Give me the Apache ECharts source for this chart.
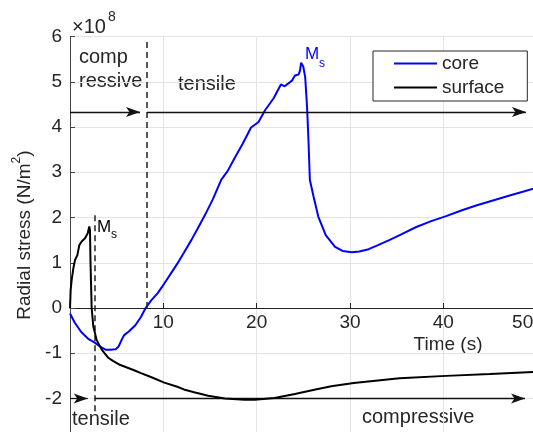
<!DOCTYPE html>
<html>
<head>
<meta charset="utf-8">
<script src="https://cdn.jsdelivr.net/npm/echarts@6/dist/echarts.min.js"></script>
<style>
html,body{margin:0;padding:0;background:#fff;}
#chart{width:533px;height:432px;}
</style>
</head>
<body>
<div id="chart"></div>
<script>
// ---- data (stress in units of 1e8 N/m^2, time in s) ----
const coreX = [0, 0.5, 1.2, 2.0, 2.7, 3.2, 3.8, 4.3, 4.9, 5.2, 5.5, 5.8, 6.3, 7.0, 7.6, 8.1, 8.7, 9.4, 10.1, 10.8, 11.5, 12.2, 13.0, 13.8, 14.5, 15.3, 16.2, 16.9, 17.6, 18.5, 19.4, 20.2, 20.9, 21.8, 22.6, 23.0, 23.5, 23.8, 24.1, 24.5, 24.65, 24.76, 25.0, 25.2, 25.4, 25.55, 25.7, 26.1, 26.6, 27.4, 28.4, 29.2, 30.2, 31.0, 32.0, 33.0, 34.2, 35.6, 37.1, 38.7, 40.3, 42.0, 43.6, 45.4, 47.2, 48.7, 50, 51];
const coreY = [-0.12, -0.32, -0.53, -0.69, -0.77, -0.85, -0.92, -0.92, -0.91, -0.85, -0.72, -0.6, -0.52, -0.38, -0.2, 0.0, 0.17, 0.33, 0.54, 0.76, 0.98, 1.22, 1.5, 1.8, 2.07, 2.4, 2.83, 3.03, 3.3, 3.63, 3.99, 4.11, 4.37, 4.63, 4.94, 4.9, 4.98, 5.03, 5.14, 5.16, 5.25, 5.42, 5.33, 5.1, 4.44, 3.71, 2.83, 2.46, 2.02, 1.61, 1.35, 1.26, 1.23, 1.25, 1.3, 1.39, 1.5, 1.64, 1.79, 1.92, 2.03, 2.16, 2.27, 2.38, 2.49, 2.58, 2.66, 2.71];

const surfX = [0, 0.07, 0.18, 0.36, 0.54, 0.79, 1.0, 1.25, 1.61, 1.9, 2.07, 2.14, 2.2, 2.32, 2.5, 2.86, 3.4, 4.1, 4.6, 5.4, 6.8, 7.6, 8.6, 10.1, 11.5, 12.2, 13.3, 14.8, 16.6, 18.7, 19.8, 21.9, 24.1, 26.3, 28.0, 30.4, 35.3, 40.3, 45.0, 50, 51];
const surfY = [0, 0.4, 0.62, 0.88, 1.06, 1.17, 1.39, 1.47, 1.54, 1.65, 1.8, 1.72, 0.99, 0.0, -0.41, -0.71, -0.92, -1.1, -1.17, -1.26, -1.37, -1.44, -1.52, -1.65, -1.74, -1.8, -1.86, -1.94, -2.0, -2.03, -2.03, -1.99, -1.9, -1.8, -1.73, -1.66, -1.55, -1.5, -1.46, -1.41, -1.40];

const xTickLabels = [10, 20, 30, 40, 50];
const yTickLabels = [-2, -1, 0, 1, 2, 3, 4, 5, 6];

// annotation geometry (data coordinates)
const dashedLines = [ [8.25, 5.88, 0], [2.65, 2.05, -2.3] ];          // [x, yTop, yBottom]
const arrowLines = [ [0, 7.5, 4.33], [8.25, 48.85, 4.33], [0, 1.9, -2.0], [2.65, 48.75, -2.0] ]; // [xStart, xEnd, y]

// ---- chart ----
const FONT = 'Liberation Sans, Arial, Helvetica, sans-serif';
const TXT = '#262626';
const Y_MIN = -3, Y_MAX = 6;
const GRID_TOP = 36.5, GRID_H = 407.25;
const chart = echarts.init(document.getElementById('chart'), null, {renderer: 'canvas'});

const pairs = (xs, ys) => xs.map((x, i) => [x, ys[i]]);
// distance (px) from grid bottom up to y = 0, used to place the x axis at the origin
const zeroOffset = GRID_H * (0 - Y_MIN) / (Y_MAX - Y_MIN);

const option = {
  animation: false,
  backgroundColor: '#fff',
  textStyle: {fontFamily: FONT},
  grid: {left: 70, top: GRID_TOP, width: 476, height: GRID_H, containLabel: false, outerBoundsMode: 'none'},
  xAxis: {
    type: 'value', min: 0, max: 51, interval: 10, position: 'bottom', offset: -zeroOffset,
    axisLine: {onZero: false, lineStyle: {color: '#222', width: 1}},
    axisTick: {inside: true, length: 5, lineStyle: {color: '#222'}},
    axisLabel: {
      fontSize: 19, color: TXT, margin: 5, fontFamily: FONT,
      formatter: function (v) {
        if (xTickLabels.indexOf(v) < 0) return '';
        if (v === xTickLabels[xTickLabels.length - 1]) return '{e|' + v + '}';
        return String(v);
      },
      rich: {e: {fontSize: 19, color: TXT, fontFamily: FONT, padding: [0, 28, 0, 0]}}
    },
    splitLine: {show: true, lineStyle: {color: '#e4e4e4', width: 1}}
  },
  yAxis: {
    type: 'value', min: Y_MIN, max: Y_MAX, interval: 1,
    axisLine: {show: true, onZero: false, lineStyle: {color: '#444', width: 1}},
    axisTick: {show: true, inside: true, length: 5, lineStyle: {color: '#444'}},
    axisLabel: {
      fontSize: 19, color: TXT, margin: 8, fontFamily: FONT,
      formatter: function (v) { return yTickLabels.indexOf(v) >= 0 ? String(v) : ''; }
    },
    splitLine: {show: true, lineStyle: {color: '#e4e4e4', width: 1}},
    name: '{a|Radial stress (N/m}{b|2}{a|)}',
    nameLocation: 'middle', nameGap: 31, nameRotate: 90,
    nameTextStyle: {
      padding: [0, 0, 0, 10],
      rich: {
        a: {fontSize: 19, color: TXT, fontFamily: FONT, verticalAlign: 'bottom', padding: [5, 0, 0, 0]},
        b: {fontSize: 12, color: TXT, fontFamily: FONT, verticalAlign: 'top'}
      }
    }
  },
  legend: {
    data: ['core', 'surface'], orient: 'vertical', left: 373, top: 51,
    icon: 'rect', itemWidth: 43, itemHeight: 2, itemGap: 5,
    padding: [3, 23, 4, 21],
    borderColor: '#262626', borderWidth: 1, backgroundColor: '#fff',
    textStyle: {fontSize: 19, lineHeight: 19, color: TXT, fontFamily: FONT}
  },
  series: [
    {
      name: 'core', type: 'line', data: pairs(coreX, coreY), symbol: 'none', showSymbol: false,
      lineStyle: {color: '#0000ff', width: 2}, itemStyle: {color: '#0000ff'}, z: 4, clip: true
    },
    {
      name: 'surface', type: 'line', data: pairs(surfX, surfY), symbol: 'none', showSymbol: false,
      lineStyle: {color: '#000', width: 2}, itemStyle: {color: '#000'}, z: 5, clip: true
    },
    {
      name: 'dashes', type: 'line', data: [], silent: true, z: 3,
      markLine: {
        silent: true, animation: false, symbol: ['none', 'none'], label: {show: false},
        emphasis: {disabled: true},
        lineStyle: {color: '#222', width: 1.5, type: [6, 4]},
        data: dashedLines.map(d => [{coord: [d[0], d[1]]}, {coord: [d[0], d[2]]}])
      }
    },
    {
      name: 'arrows', type: 'line', data: [], silent: true, z: 3,
      markLine: {
        silent: true, animation: false, symbol: ['none', 'arrow'], symbolSize: [7.5, 14], label: {show: false},
        emphasis: {disabled: true},
        lineStyle: {color: '#111', width: 1.3, type: 'solid'},
        data: arrowLines.map(a => [{coord: [a[0], a[2]]}, {coord: [a[1], a[2]]}])
      }
    }
  ],
  graphic: [
    {type: 'text', x: 72, y: 27, style: {text: '×10', font: '20px ' + FONT, fill: TXT, verticalAlign: 'middle'}},
    {type: 'text', x: 108, y: 17, style: {text: '8', font: '14px ' + FONT, fill: TXT, verticalAlign: 'middle'}},
    {type: 'text', x: 79, y: 57, style: {text: 'comp', font: '20px ' + FONT, fill: TXT, verticalAlign: 'middle'}},
    {type: 'text', x: 79, y: 81, style: {text: 'ressive', font: '20px ' + FONT, fill: TXT, verticalAlign: 'middle'}},
    {type: 'text', x: 178, y: 84, style: {text: 'tensile', font: '20px ' + FONT, fill: TXT, verticalAlign: 'middle'}},
    {type: 'text', x: 72, y: 419, style: {text: 'tensile', font: '20px ' + FONT, fill: TXT, verticalAlign: 'middle'}},
    {type: 'text', x: 362, y: 417, style: {text: 'compressive', font: '20px ' + FONT, fill: TXT, verticalAlign: 'middle'}},
    {type: 'text', x: 448, y: 345, style: {text: 'Time (s)', font: '19px ' + FONT, fill: TXT, align: 'center', verticalAlign: 'middle'}},
    {type: 'text', x: 305, y: 54, style: {text: 'M', font: '17px ' + FONT, fill: '#0000ff', verticalAlign: 'middle'}},
    {type: 'text', x: 319, y: 64, style: {text: 's', font: '12px ' + FONT, fill: '#0000ff', verticalAlign: 'middle'}},
    {type: 'text', x: 97, y: 227, style: {text: 'M', font: '17px ' + FONT, fill: '#000', verticalAlign: 'middle'}},
    {type: 'text', x: 111, y: 235, style: {text: 's', font: '12px ' + FONT, fill: '#000', verticalAlign: 'middle'}}
  ]
};
chart.setOption(option);
</script>
</body>
</html>
